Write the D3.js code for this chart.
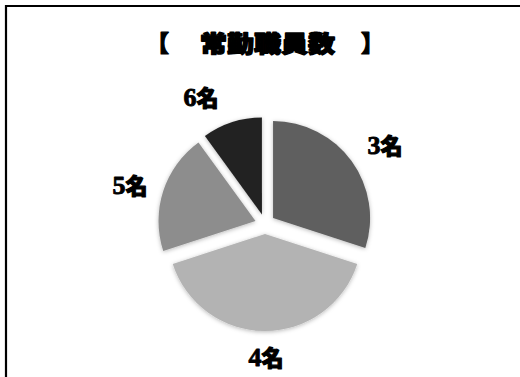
<!DOCTYPE html>
<html>
<head>
<meta charset="utf-8">
<script src="https://cdn.jsdelivr.net/npm/d3@7/dist/d3.min.js"></script>
<style>
  html, body { margin: 0; padding: 0; background: #fff; }
  svg { display: block; }
</style>
</head>
<body>
<svg id="chart" width="520" height="377"></svg>
<script>
// 常勤職員数の内訳（割合）
const categories = ["3名", "4名", "5名", "6名"];
const shares = [30, 40, 20, 10];
const sliceColors = ["#5f5f5f", "#b3b3b3", "#8d8d8d", "#222222"];
const titleText = "常勤職員数";

const W = 520, H = 377;
const cx = 265, cy = 224, radius = 97, explode = 10;

const svg = d3.select("#chart");

// drop shadow for the slices
const defs = svg.append("defs");
const f = defs.append("filter").attr("id", "sliceShadow")
  .attr("x", "-20%").attr("y", "-20%").attr("width", "140%").attr("height", "140%");
f.append("feDropShadow").attr("dx", 0).attr("dy", 1).attr("stdDeviation", 2.2)
  .attr("flood-color", "#000").attr("flood-opacity", 0.28);

// frame: top and left rules
svg.append("path")
  .attr("d", `M6,${H} L6,6 L${W},6`)
  .attr("fill", "none").attr("stroke", "#000").attr("stroke-width", 2.2);

// title (heavy gothic: bold weight plus a thin outline of the same colour)
const tY = 52;
const titleFont = "'Noto Sans CJK JP', 'Noto Sans CJK SC', sans-serif";
function heavy(sel, w) {
  return sel.attr("font-family", titleFont).attr("font-weight", 900)
    .attr("stroke", "#000").attr("stroke-width", w).attr("stroke-linejoin", "round");
}
heavy(svg.append("text").attr("x", 169).attr("y", tY).attr("text-anchor", "end")
  .attr("font-size", 23), 1.2).text("【");
heavy(svg.append("text").attr("x", 200).attr("y", tY).attr("font-size", 23)
  .attr("textLength", 135).attr("lengthAdjust", "spacingAndGlyphs"), 1.4)
  .text(titleText);
heavy(svg.append("text").attr("x", 361).attr("y", tY).attr("font-size", 23), 1.2)
  .text("】");

// pie
const pie = d3.pie().sort(null).value(d => d.v);
const arcs = pie(categories.map((c, i) => ({ c, v: shares[i], color: sliceColors[i] })));
const arc = d3.arc().innerRadius(0).outerRadius(radius);

const g = svg.append("g").attr("transform", `translate(${cx},${cy})`);
g.selectAll("path.slice")
  .data(arcs)
  .join("path")
  .attr("class", "slice")
  .attr("d", arc)
  .attr("fill", d => d.data.color)
  .attr("filter", "url(#sliceShadow)")
  .attr("transform", d => {
    const a = (d.startAngle + d.endAngle) / 2;
    return `translate(${explode * Math.sin(a)},${-explode * Math.cos(a)})`;
  });

// category labels outside the slices
const labelPos = {
  "3名": [385, 154],
  "4名": [266, 366],
  "5名": [130, 194],
  "6名": [201, 106]
};
const labels = svg.selectAll("text.lbl")
  .data(arcs)
  .join("text")
  .attr("class", "lbl")
  .attr("x", d => labelPos[d.data.c][0])
  .attr("y", d => labelPos[d.data.c][1])
  .attr("text-anchor", "middle")
  .attr("fill", "#000")
  .attr("stroke", "#000")
  .attr("stroke-linejoin", "round");
labels.append("tspan")
  .attr("font-family", "'Liberation Serif', 'DejaVu Serif', serif")
  .attr("font-weight", 700).attr("font-size", 26)
  .attr("stroke-width", 0.9)
  .text(d => d.data.c.replace("名", ""));
labels.append("tspan")
  .attr("font-family", titleFont)
  .attr("font-weight", 900).attr("font-size", 22)
  .attr("stroke-width", 1.1)
  .text("名");
</script>
</body>
</html>
